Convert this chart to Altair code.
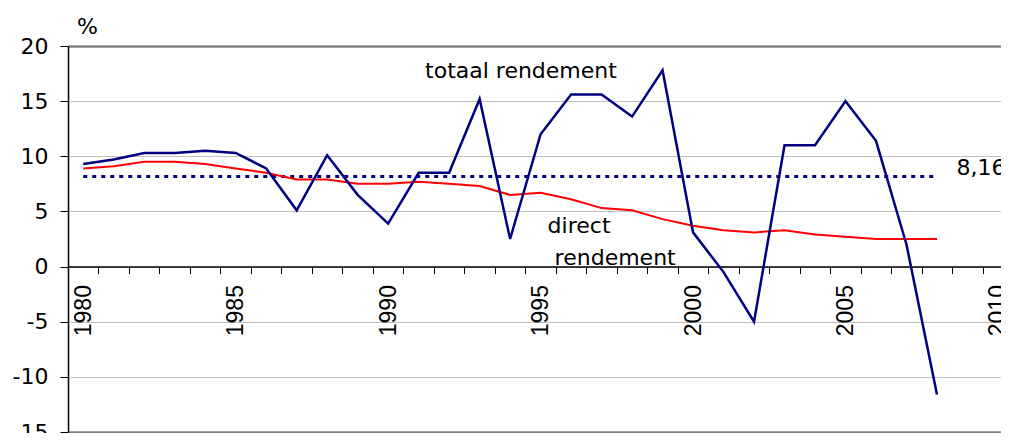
import altair as alt
import pandas as pd

years = list(range(1980, 2009))
totaal = [9.3, 9.7, 10.3, 10.3, 10.5, 10.3, 8.9, 5.1, 10.1, 6.5, 3.9, 8.5, 8.5, 15.2,
          2.5, 12.0, 15.6, 15.6, 13.6, 17.8, 3.1, -0.5, -5.0, 11.0, 11.0, 15.0, 11.4, 2.0, -11.6]
direct = [8.9, 9.1, 9.5, 9.5, 9.3, 8.9, 8.5, 7.9, 7.9, 7.5, 7.5, 7.7, 7.5, 7.3,
          6.5, 6.7, 6.1, 5.3, 5.1, 4.3, 3.7, 3.3, 3.1, 3.3, 2.9, 2.7, 2.5, 2.5, 2.5]
avg_years = [1980, 2008]
avg_value = [8.16, 8.16]

y_ticks = [-15, -10, -5, 0, 5, 10, 15, 20]
x_label_years = [1980, 1985, 1990, 1995, 2000, 2005, 2010]
x_boundaries = [y + 0.5 for y in range(1979, 2010)]

label_text = ["totaal rendement", "direct", "rendement", "8,16"]
label_x = [1991.21, 1995.23, 1995.46, 2008.64]
label_y = [17.12, 3.06, 0.14, 8.33]

df_tot = pd.DataFrame({"year": years, "value": totaal})
df_dir = pd.DataFrame({"year": years, "value": direct})
df_avg = pd.DataFrame({"year": avg_years, "value": avg_value})
df_lab = pd.DataFrame({"year": label_x, "value": label_y, "text": label_text})

H = 386
W = 933
zero_off = -H * 15 / 35

xscale = alt.Scale(domain=[1979.5, 2010.1], nice=False, zero=False)
yscale = alt.Scale(domain=[-15, 20], nice=False, zero=False)

xaxis = alt.Axis(
    values=x_boundaries + x_label_years,
    labelExpr="datum.value % 5 == 0 ? '' + datum.value : ''",
    labelAngle=-90, labelFont="Liberation Sans", labelFontSize=23, labelColor="black",
    labelPadding=11, labelOverlap=False, labelFlush=False, labelBound=False,
    tickSize=7, tickColor="black", tickWidth=1,
    tickOpacity={"condition": {"test": "datum.value % 1 != 0", "value": 1}, "value": 0},
    domainColor="black", domainWidth=1.5, grid=False, title=None, offset=zero_off,
)
edge_test = "datum.value == 20 || datum.value == -15"
yaxis = alt.Axis(
    values=y_ticks, labelExpr="'' + datum.value",
    labelFont="DejaVu Sans", labelFontSize=22, labelColor="black",
    labelPadding=12, labelFlush=False, labelOverlap=False,
    tickSize=8, tickColor="black", domainColor="black", domainWidth=1.5,
    grid=True,
    gridColor={"condition": {"test": edge_test, "value": "#808080"}, "value": "#c0c0c0"},
    gridWidth={"condition": {"test": edge_test, "value": 2.5}, "value": 1},
    title="%", titleAngle=0, titleX=19, titleY=-20, titleAlign="center",
    titleBaseline="middle", titleFont="DejaVu Sans", titleFontSize=22,
    titleFontWeight="normal", titleColor="black",
)

ex = alt.X("year:Q", scale=xscale, axis=xaxis)
ey = alt.Y("value:Q", scale=yscale, axis=yaxis)

tot = alt.Chart(df_tot).mark_line(color="#000080", strokeWidth=2.5).encode(x=ex, y=ey)
dirl = alt.Chart(df_dir).mark_line(color="#FF0000", strokeWidth=2).encode(x=ex, y=ey)
avg = alt.Chart(df_avg).mark_line(color="#000080", strokeWidth=3, strokeDash=[4, 5],
                                  strokeCap="butt").encode(x=ex, y=ey)
txt = alt.Chart(df_lab).mark_text(align="left", baseline="alphabetic", font="DejaVu Sans",
                                  fontSize=22, color="black").encode(
    x=ex, y=ey, text="text:N")

chart = alt.layer(avg, dirl, tot, txt).properties(
    width=W, height=H, autosize="none",
    padding={"left": 60, "top": 38, "right": 0, "bottom": 1},
).configure_view(stroke="#808080", strokeWidth=2.5).configure(background="white")

chart.save("out.html", embed_options={"renderer": "svg", "actions": False})
